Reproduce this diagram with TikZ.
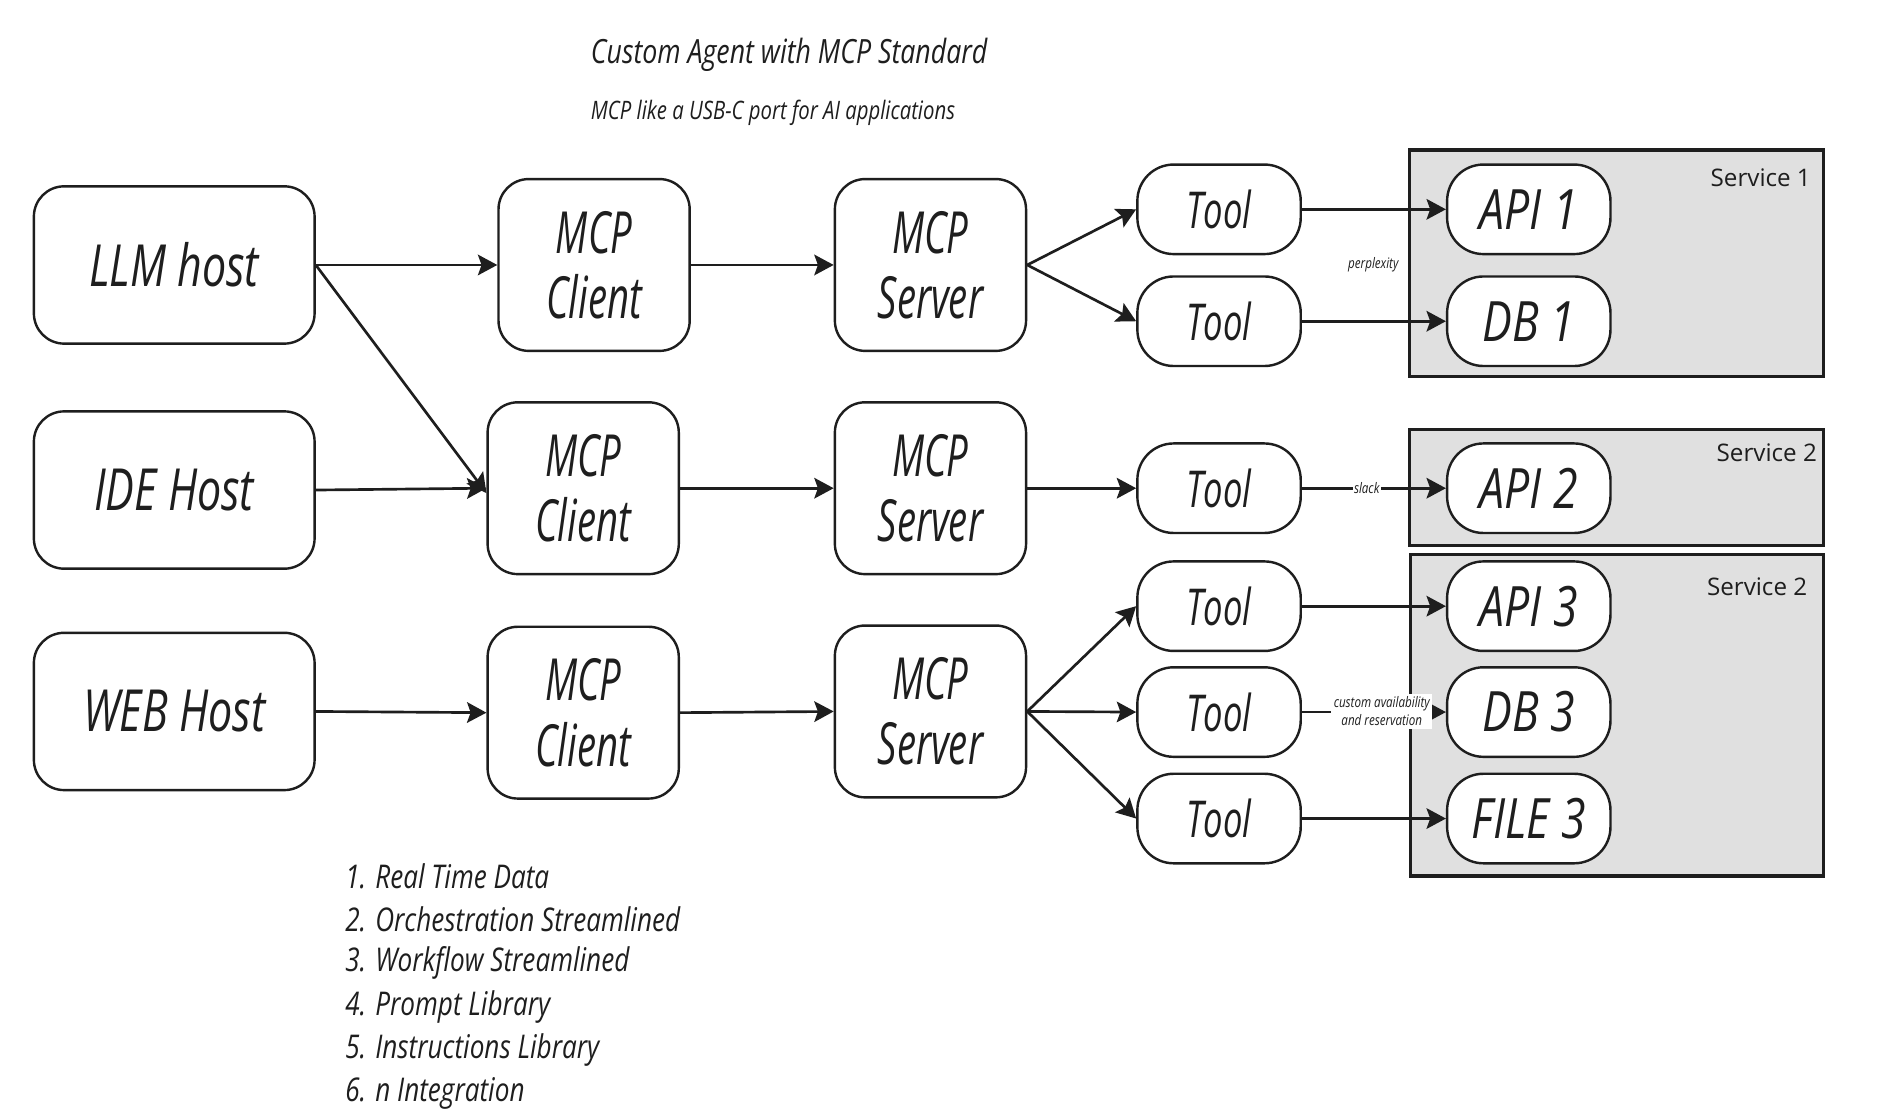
\documentclass[tikz,border=0pt]{standalone}
\usepackage{fontspec}
\setmainfont{Open Sans}
\newfontfamily\hand[FakeStretch=0.8]{Open Sans}
\newfontfamily\handh[FakeStretch=0.74]{Open Sans}
\newfontfamily\handm[FakeStretch=0.66]{Open Sans}
\newfontfamily\handt[FakeStretch=0.68]{Open Sans}
\usetikzlibrary{arrows.meta}
\definecolor{ink}{HTML}{1E1E1E}
\definecolor{svcgrey}{HTML}{E0E0E0}
\begin{document}
\begin{tikzpicture}[x=0.5pt,y=-0.5pt,
  box/.style={draw=ink,line width=1pt,fill=white,rounded corners=12.5pt,inner sep=0pt,align=center,text=ink},
  hostbox/.style={box,minimum width=116pt,minimum height=65pt,font=\handh\itshape\fontsize{24}{26}\selectfont},
  mcpbox/.style={box,minimum width=79pt,minimum height=71pt,font=\handm\itshape\fontsize{24}{27}\selectfont},
  toolbox/.style={box,rounded corners=15pt,minimum width=67.5pt,minimum height=37pt,font=\handt\itshape\fontsize{21}{22}\selectfont},
  resbox/.style={toolbox,font=\hand\itshape\fontsize{23}{24}\selectfont},
  svcbox/.style={draw=ink,line width=1.3pt,fill=svcgrey,inner sep=0pt},
  svclabel/.style={anchor=east,text=ink,font=\fontsize{10}{12}\selectfont,inner sep=0pt},
  conn/.style={draw=ink,line width=1.1pt,-{Stealth[length=8pt,width=8.5pt,inset=1.5pt]}},
  lbl/.style={font=\hand\itshape\fontsize{6}{7.5}\selectfont,text=ink,inner sep=1pt,align=center},
  title/.style={anchor=west,text=ink,inner sep=0pt},
  listitem/.style={anchor=west,text=ink,inner sep=0pt,font=\hand\itshape\fontsize{13.5}{15}\selectfont}]
\useasboundingbox (0,0) rectangle (1567,919);
\fill[white] (0,0) rectangle (1567,919);

% service areas
\node[svcbox,minimum width=171pt,minimum height=93.5pt] (svc1) at (1336,217.5) {};
\node[svcbox,minimum width=171pt,minimum height=48pt] (svc2) at (1336,403) {};
\node[svcbox,minimum width=170.5pt,minimum height=133pt] (svc3) at (1336.5,591) {};
\node[svclabel] (svc1l) at (1497,147) {Service 1};
\node[svclabel] (svc2l) at (1502,374) {Service 2};
\node[svclabel] (svc3l) at (1494,485) {Service 2};

% titles
\node[title,font=\hand\itshape\fontsize{13.8}{15}\selectfont] (ttl) at (488,45) {Custom Agent with MCP Standard};
\node[title,font=\hand\itshape\fontsize{10.5}{12}\selectfont] (sub) at (488,93) {MCP like a USB-C port for AI applications};

% hosts
\node[hostbox] (llm) at (144,219) {LLM host};
\node[hostbox] (ide) at (144,405) {IDE Host};
\node[hostbox] (web) at (144,588) {WEB Host};

% clients
\node[mcpbox] (c1) at (491,219) {MCP\\Client};
\node[mcpbox] (c2) at (482,403.5) {MCP\\Client};
\node[mcpbox] (c3) at (482,589) {MCP\\Client};

% servers
\node[mcpbox] (s1) at (769,219) {MCP\\Server};
\node[mcpbox] (s2) at (769,403.5) {MCP\\Server};
\node[mcpbox] (s3) at (769,588) {MCP\\Server};

% tools
\node[toolbox] (t1a) at (1007.5,173) {Tool};
\node[toolbox] (t1b) at (1007.5,265.5) {Tool};
\node[toolbox] (t2) at (1007.5,403.5) {Tool};
\node[toolbox] (t3a) at (1007.5,501) {Tool};
\node[toolbox] (t3b) at (1007.5,588.5) {Tool};
\node[toolbox] (t3c) at (1007.5,676.5) {Tool};

% resources
\node[resbox] (api1) at (1263.5,173) {API 1};
\node[resbox] (db1) at (1263.5,265.5) {DB 1};
\node[resbox] (api2) at (1263.5,403.5) {API 2};
\node[resbox] (api3) at (1263.5,501) {API 3};
\node[resbox] (db3) at (1263.5,588.5) {DB 3};
\node[resbox] (file3) at (1263.5,676.5) {FILE 3};

% connectors
\draw[conn] (llm.east) -- (c1.west);
\draw[conn] (llm.east) -- ([yshift=-2pt]c2.west);
\draw[conn] (ide.east) -- (c2.west);
\draw[conn] (web.east) -- (c3.west);
\draw[conn] (c1.east) -- (s1.west);
\draw[conn] (c2.east) -- (s2.west);
\draw[conn] (c3.east) -- (s3.west);
\draw[conn] (s1.east) -- (t1a.west);
\draw[conn] (s1.east) -- (t1b.west);
\draw[conn] (s2.east) -- (t2.west);
\draw[conn] (s3.east) -- (t3a.west);
\draw[conn] (s3.east) -- (t3b.west);
\draw[conn] (s3.east) -- (t3c.west);
\draw[conn] (t1a.east) -- (api1.west);
\draw[conn] (t1b.east) -- (db1.west);
\draw[conn] (t2.east) -- node[lbl,fill=white,inner sep=0.5pt,pos=0.45] (slk) {slack} (api2.west);
\draw[conn] (t3a.east) -- (api3.west);
\draw[conn] (t3b.east) -- (db3.west);
\draw[conn] (t3c.east) -- (file3.west);
\node[lbl] (ppx) at (1135,219) {perplexity};
\node[lbl,fill=white] (cav) at (1142,588) {custom availability\\and reservation};

% list
\node[listitem] (l1) at (285,724) {1. Real Time Data};
\node[listitem] (l2) at (285,760) {2. Orchestration Streamlined};
\node[listitem] (l3) at (285,796) {3. Workflow Streamlined};
\node[listitem] (l4) at (285,832) {4. Prompt Library};
\node[listitem] (l5) at (285,868) {5. Instructions Library};
\node[listitem] (l6) at (285,904) {6. n Integration};
\end{tikzpicture}
\end{document}
